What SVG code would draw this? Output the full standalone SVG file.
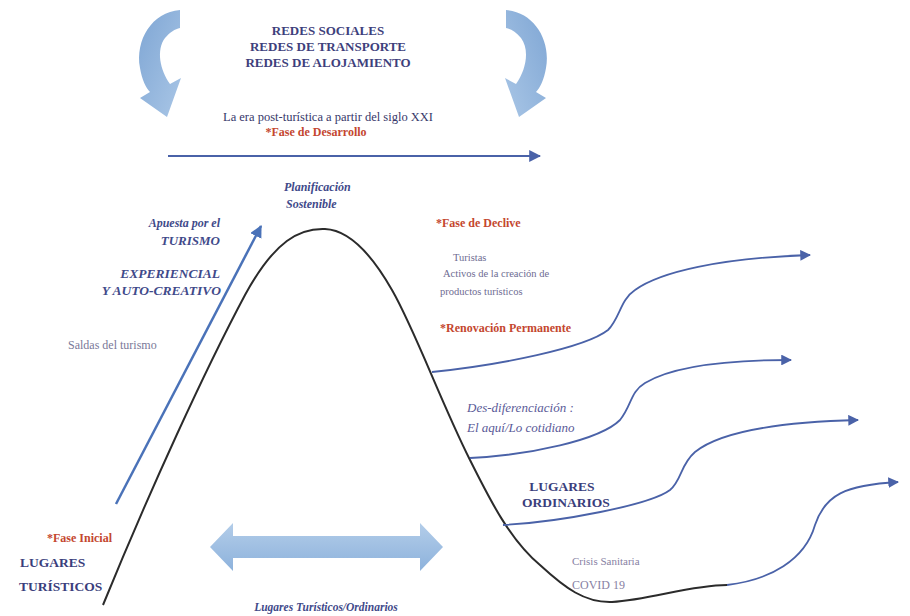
<svg xmlns="http://www.w3.org/2000/svg" width="910" height="616" viewBox="0 0 910 616">
<style>
text{font-family:"Liberation Serif","Times New Roman",serif}
.hd{fill:#3e3f7c;font-size:13px;font-weight:bold}
.dk{fill:#36376a;font-size:12.5px}
.red{fill:#c4472f;font-size:12px;font-weight:bold}
.it{fill:#3f4a8a;font-style:italic;font-weight:bold}
.gr{fill:#6e6c92;font-size:10.5px}
.gi{fill:#5a5a98;font-size:13px;font-style:italic}
.big{fill:#3a3e7c;font-size:13.5px;font-weight:bold}
.conn{fill:none;stroke:#4a62a8;stroke-width:1.8}
.curve{fill:none;stroke:#2b2b2b;stroke-width:2}
.carrow{fill:url(#cg)}
</style>
<defs>
<marker id="ah" viewBox="0 0 10 10" refX="9" refY="5" markerWidth="6" markerHeight="6" orient="auto" markerUnits="strokeWidth">
<path d="M0,0 L10,5 L0,10 z" fill="#4a62a8"/>
</marker>
<marker id="ah2" viewBox="0 0 10 10" refX="9" refY="5" markerWidth="5" markerHeight="5" orient="auto" markerUnits="strokeWidth">
<path d="M0,0 L10,5 L0,10 z" fill="#4a72b8"/>
</marker>
<linearGradient id="bg" x1="0" y1="0" x2="0" y2="1">
<stop offset="0" stop-color="#b3cde9"/>
<stop offset="1" stop-color="#8db2dc"/>
</linearGradient>
<linearGradient id="cg" x1="0" y1="0" x2="1" y2="1">
<stop offset="0" stop-color="#7fa6d4"/>
<stop offset="1" stop-color="#a9c6e6"/>
</linearGradient>
<path id="carr" d="M180,10 C152,12 135,40 140,68 C142,80 146,88 150,92 L140,98 L167,117 L181,78 L170,84 C160,70 156,50 165,38 C170,32 175,29 180,28 Z"/>
</defs>
<rect width="910" height="616" fill="#ffffff"/>

<g id="curved-arrow-left">
<use href="#carr" class="carrow"/>
</g>
<g id="curved-arrow-right" transform="translate(686,0) scale(-1,1)">
<use href="#carr" class="carrow"/>
</g>

<g id="redes">
<text class="hd" x="328" y="35" text-anchor="middle">REDES SOCIALES</text>
<text class="hd" x="328" y="51" text-anchor="middle">REDES DE TRANSPORTE</text>
<text class="hd" x="328" y="67" text-anchor="middle">REDES DE ALOJAMIENTO</text>
</g>

<g id="era">
<text class="dk" x="328" y="121" text-anchor="middle">La era post-turística a partir del siglo XXI</text>
<text class="red" x="316" y="136" text-anchor="middle">*Fase de Desarrollo</text>
</g>

<g id="planificacion">
<text class="it" x="284" y="191" font-size="12">Planificación</text>
<text class="it" x="286" y="208" font-size="12">Sostenible</text>
</g>

<g id="apuesta">
<text class="it" x="220" y="227" font-size="12" text-anchor="end">Apuesta por el</text>
<text class="it" x="220" y="245" font-size="13" text-anchor="end">TURISMO</text>
<text class="it" x="220" y="278" font-size="13.5" text-anchor="end">EXPERIENCIAL</text>
<text class="it" x="221" y="295" font-size="13.5" text-anchor="end">Y AUTO-CREATIVO</text>
</g>

<g id="saldas">
<text x="68" y="349" fill="#7a7898" font-size="12">Saldas del turismo</text>
</g>

<g id="fase-inicial">
<text class="red" x="47" y="542">*Fase Inicial</text>
<text class="big" x="20" y="567" font-size="13">LUGARES</text>
<text class="big" x="19" y="591" font-size="13">TURÍSTICOS</text>
</g>

<g id="declive">
<text class="red" x="436" y="227">*Fase de Declive</text>
<text class="gr" x="453" y="261">Turistas</text>
<text class="gr" x="443" y="277">Activos de la creación de</text>
<text class="gr" x="440" y="295">productos turísticos</text>
<text class="red" x="440" y="332" font-size="12.5">*Renovación Permanente</text>
</g>

<g id="desdif">
<text class="gi" x="467" y="412">Des-diferenciación :</text>
<text class="gi" x="467" y="432">El aquí/Lo cotidiano</text>
</g>

<g id="ordinarios">
<text class="big" x="562" y="491" text-anchor="middle">LUGARES</text>
<text class="big" x="566" y="507" text-anchor="middle">ORDINARIOS</text>
</g>

<g id="crisis">
<text x="572" y="565" fill="#877fa3" font-size="11">Crisis Sanitaria</text>
<text x="572" y="589" fill="#877fa3" font-size="12">COVID 19</text>
</g>

<g id="lugares-double-arrow">
<polygon points="210,547 233,523 233,536 420,536 420,523 443,547 420,571 420,558 233,558 233,571" fill="url(#bg)"/>
<text class="it" x="326" y="611" font-size="11.5" text-anchor="middle">Lugares Turísticos/Ordinarios</text>
</g>

<g id="connectors">
<line x1="168" y1="156" x2="540" y2="156" stroke="#4a62a8" stroke-width="2" marker-end="url(#ah)"/>
<line x1="116" y1="504" x2="261" y2="226" stroke="#4a72b8" stroke-width="2.5" marker-end="url(#ah2)"/>
<path class="curve" d="M103,605 C150,490 205,370 245,295 C275,240 300,228 325,229 C350,230 372,255 392,290 C415,330 440,400 470,460 C490,500 510,540 540,565 C565,588 585,603 612,602 C650,600 690,585 727,585"/>
<path class="conn" d="M727,585 C770,580 805,560 815,525 C825,495 845,485 898,482" marker-end="url(#ah)"/>
<path class="conn" d="M432,372 C500,365 585,348 608,330 C620,318 620,300 635,290 C660,272 720,258 810,255" marker-end="url(#ah)"/>
<path class="conn" d="M470,458 C530,455 600,440 620,420 C632,405 630,392 645,383 C670,368 720,360 791,360" marker-end="url(#ah)"/>
<path class="conn" d="M503,525 C560,522 650,505 670,490 C682,480 680,465 695,452 C720,432 780,422 858,420" marker-end="url(#ah)"/>
</g>
</svg>
